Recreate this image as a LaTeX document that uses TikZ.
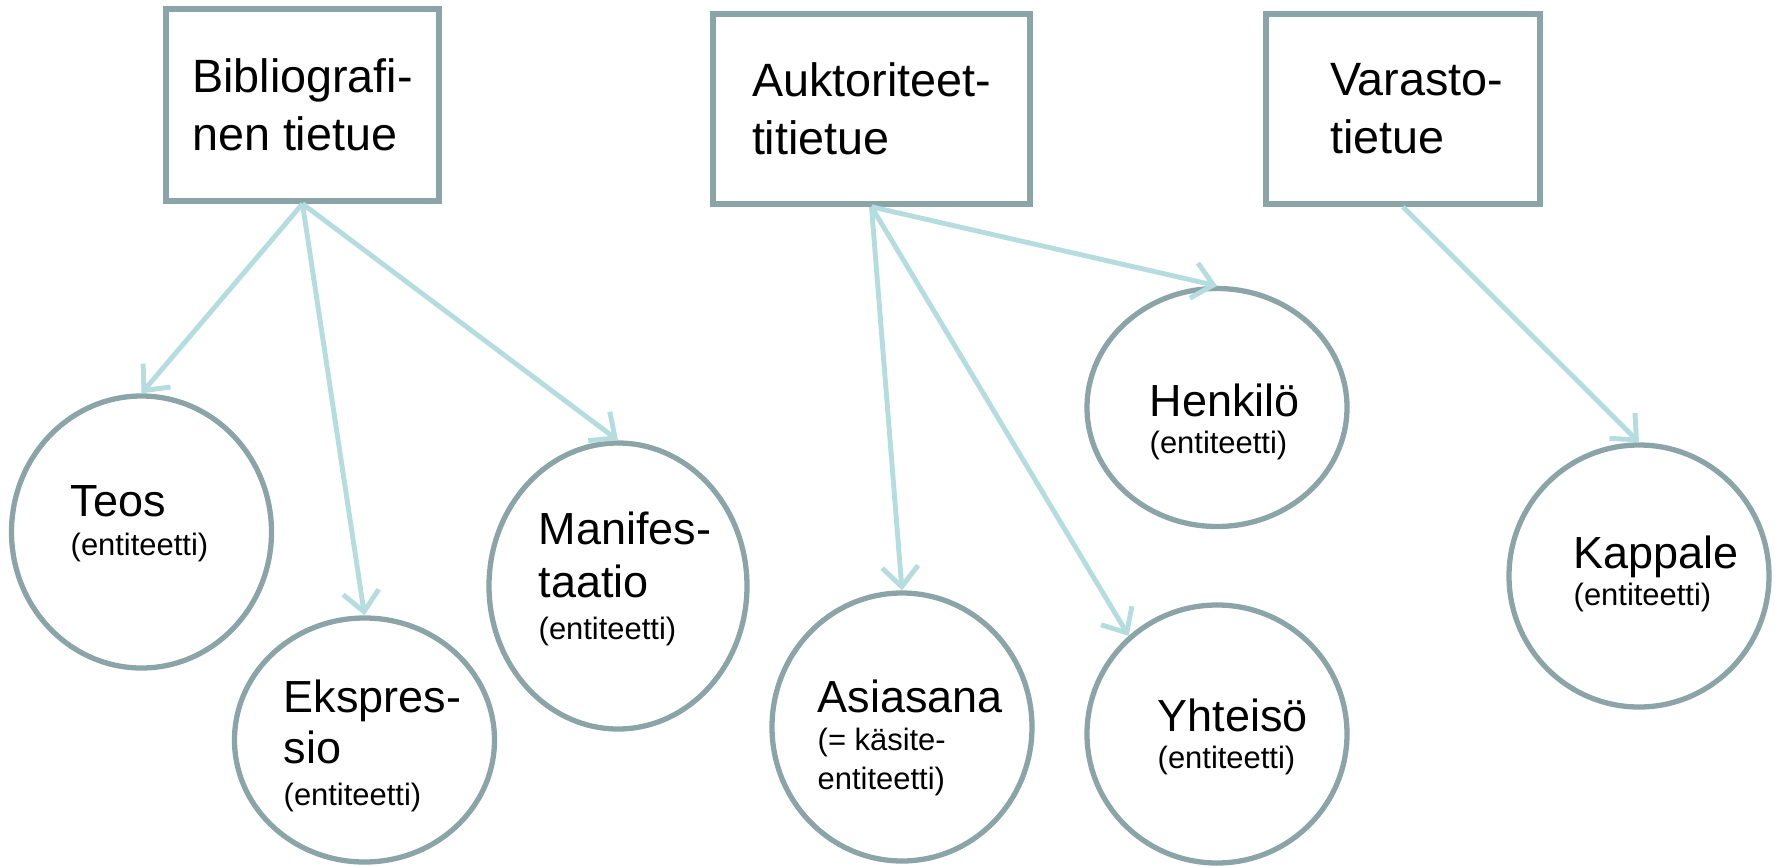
\documentclass[tikz,border=0pt]{standalone}
\usepackage{fontspec}
\setmainfont{Liberation Sans}
\usetikzlibrary{shapes.geometric,arrows.meta}
\definecolor{boxgray}{RGB}{138,164,167}
\definecolor{linkcyan}{RGB}{181,221,224}
\newcommand\entsmall[1]{{\fontsize{8.8}{10.8}\selectfont #1}}

\begin{document}
\begin{tikzpicture}[>={Straight Barb[length=2mm,width=3.6mm]},
  record/.style={draw=boxgray, line width=1.6pt, align=left, font=\fontsize{13.3}{16.5}\selectfont},
  entity/.style={draw=boxgray, line width=1.5pt, ellipse, inner sep=0pt},
  etext/.style={anchor=north west, align=left, inner sep=0pt, font=\fontsize{12.8}{15}\selectfont},
  link/.style={->, draw=linkcyan, line width=1.4pt}]
\useasboundingbox (0,0) rectangle (17.75,-8.66);

% tietueet
\node[record, minimum width=2.73cm, minimum height=1.92cm] (B) at (3.025,-1.05) {Bibliografi-\\nen tietue};
\node[record, minimum width=3.17cm, minimum height=1.90cm] (A) at (8.715,-1.09) {Auktoriteet-\\titietue};
\node[record, minimum width=2.74cm, minimum height=1.90cm, text width=2.4cm, inner xsep=0pt] (V) at (14.03,-1.09) {\hspace*{0.47cm}Varasto-\\\hspace*{0.47cm}tietue};

% entiteetit
\node[entity, minimum width=2.60cm, minimum height=2.72cm] (teos) at (1.415,-5.32) {};
\node[entity, minimum width=2.60cm, minimum height=2.44cm] (ekspr) at (3.645,-7.40) {};
\node[entity, minimum width=2.58cm, minimum height=2.86cm] (manif) at (6.18,-5.86) {};
\node[entity, minimum width=2.60cm, minimum height=2.68cm] (asia) at (9.02,-7.27) {};
\node[entity, minimum width=2.60cm, minimum height=2.58cm] (yht) at (12.17,-7.34) {};
\node[entity, minimum width=2.60cm, minimum height=2.38cm] (henk) at (12.17,-4.075) {};
\node[entity, minimum width=2.60cm, minimum height=2.62cm] (kap) at (16.39,-5.76) {};

\node[etext] (teos-t) at (0.70,-4.85) {Teos\\[-4pt]\entsmall{(entiteetti)}};
\node[etext] (ekspr-t) at (2.83,-6.79) {Ekspres-\\[-0.5pt]sio\\[-3pt]\entsmall{(entiteetti)}};
\node[etext] (manif-t) at (5.38,-5.11) {Manifes-\\taatio\\[-3pt]\entsmall{(entiteetti)}};
\node[etext] (asia-t) at (8.17,-6.79) {Asiasana\\[-4pt]\entsmall{(= käsite-}\\[-4pt]\entsmall{entiteetti)}};
\node[etext] (yht-t) at (11.57,-6.98) {Yhteisö\\[-4.5pt]\entsmall{(entiteetti)}};
\node[etext] (henk-t) at (11.49,-3.83) {Henkilö\\[-4.5pt]\entsmall{(entiteetti)}};
\node[etext] (kap-t) at (15.73,-5.35) {Kappale\\[-4.5pt]\entsmall{(entiteetti)}};

% linkit
\draw[link] (B.south) -- (teos.north);
\draw[link] (B.south) -- (ekspr.north);
\draw[link] (B.south) -- (manif.north);
\draw[link] (A.south) -- (henk.north);
\draw[link] (A.south) -- (asia.north);
\draw[link] (A.south) -- (yht.132);
\draw[link] (V.south) -- (kap.north);
\end{tikzpicture}
\end{document}
